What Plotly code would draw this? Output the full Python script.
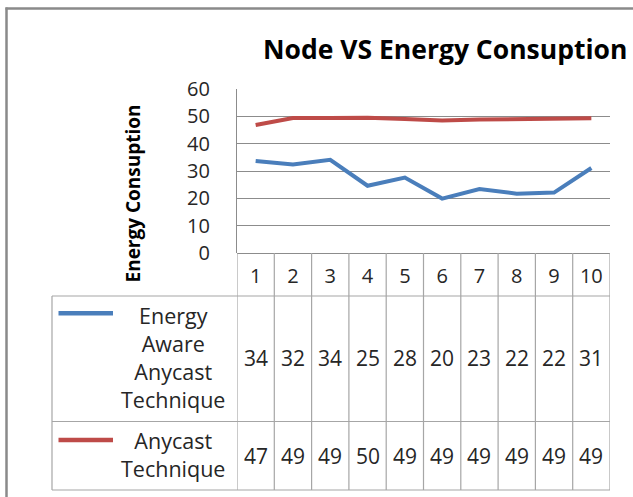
import plotly.graph_objects as go

# ---------------- data ----------------
nodes = [1, 2, 3, 4, 5, 6, 7, 8, 9, 10]
node_labels = ["1", "2", "3", "4", "5", "6", "7", "8", "9", "10"]
energy_aware = [33.7, 32.4, 34.1, 24.6, 27.6, 19.9, 23.4, 21.7, 22.1, 31.1]
anycast = [46.8, 49.4, 49.4, 49.5, 49.0, 48.5, 48.8, 48.9, 48.9, 49.3]
series_names = ["Energy Aware Anycast Technique", "Anycast Technique"]
series_labels = ["Energy<br>Aware<br>Anycast<br>Technique", "Anycast<br>Technique"]
y_ticks = [0, 10, 20, 30, 40, 50, 60]
title_text = "Node VS Energy Consuption"
y_title_text = "Energy Consuption"

# ---------------- layout geometry (pixels) ----------------
W, H = 633, 497
L, R, T, B = 237, 610, 89, 253
PW, PH = R - L, B - T


def px(x):
    return (x - L) / PW


def py(y):
    return (B - y) / PH


BLUE = "#4A7EBB"
RED = "#BE4B48"
GRID = "#8C8C8C"
TABLE = "#A6A6A6"
FRAME = "#8A8A8A"
TXT = "#262626"
FONT = "Open Sans"

fig = go.Figure()
colors = [BLUE, RED]
series = [energy_aware, anycast]
for name, vals, col in zip(series_names, series, colors):
    fig.add_trace(go.Scatter(x=nodes, y=vals, mode="lines", name=name,
                             line=dict(color=col, width=4), hoverinfo="x+y+name"))

shapes = []
# outer frame (left and top edges visible)
shapes.append(dict(type="line", xref="paper", yref="paper", x0=px(5.5), x1=px(640),
                   y0=py(8.5), y1=py(8.5), line=dict(color=FRAME, width=2.5)))
shapes.append(dict(type="line", xref="paper", yref="paper", x0=px(6.5), x1=px(6.5),
                   y0=py(7.5), y1=py(505), line=dict(color=FRAME, width=2.5)))

# data table horizontal rules
for yy in [296, 421.5, 490]:
    shapes.append(dict(type="line", xref="paper", yref="paper", x0=px(52), x1=px(R),
                       y0=py(yy), y1=py(yy), line=dict(color=TABLE, width=1.2)))
# table left border
shapes.append(dict(type="line", xref="paper", yref="paper", x0=px(52), x1=px(52),
                   y0=py(296), y1=py(490), line=dict(color=TABLE, width=1.2)))
# column separators
for i in range(len(nodes) + 1):
    xv = nodes[0] - 0.5 + i
    shapes.append(dict(type="line", xref="x", yref="paper", x0=xv, x1=xv,
                       y0=py(B), y1=py(490), line=dict(color=TABLE, width=1.2)))
# legend keys
key_y = [313.3, 440]
for ky, col in zip(key_y, colors):
    shapes.append(dict(type="line", xref="paper", yref="paper", x0=px(58.5), x1=px(113),
                       y0=py(ky), y1=py(ky), line=dict(color=col, width=4.5)))

annotations = []
annotations.append(dict(text="<b>" + title_text + "</b>", xref="paper", yref="paper",
                        x=px(445), y=py(49), xanchor="center", yanchor="middle",
                        showarrow=False, font=dict(family=FONT, size=26.5, color="#000000")))
annotations.append(dict(text="<b>" + y_title_text + "</b>", xref="paper", yref="paper",
                        x=px(132.5), y=py(194), xanchor="center", yanchor="middle",
                        textangle=-90, showarrow=False,
                        font=dict(family=FONT, size=19, color="#000000")))
label_y = [357.5, 454]
val_y = [358.3, 455.7]
for lab, ly, vals, vy in zip(series_labels, label_y, series, val_y):
    annotations.append(dict(text=lab, xref="paper", yref="paper", x=px(173), y=py(ly),
                            xanchor="center", yanchor="middle", align="center",
                            showarrow=False, font=dict(family=FONT, size=21.5, color=TXT)))
    for n, v in zip(nodes, vals):
        annotations.append(dict(text=str(int(v + 0.5)), xref="x", yref="paper", x=n,
                                y=py(vy), xanchor="center", yanchor="middle",
                                showarrow=False, font=dict(family=FONT, size=21, color=TXT)))

fig.update_layout(
    width=W, height=H,
    margin=dict(l=L, r=W - R, t=T, b=H - B, pad=0),
    paper_bgcolor="white", plot_bgcolor="white",
    showlegend=False,
    font=dict(family=FONT, color=TXT),
    shapes=shapes, annotations=annotations,
    xaxis=dict(range=[0.5, 10.5], tickmode="array", tickvals=nodes, ticktext=node_labels,
               showgrid=False, zeroline=False, showline=False, ticks="",
               ticklabelstandoff=9, tickfont=dict(family=FONT, size=20, color=TXT),
               fixedrange=True),
    yaxis=dict(range=[0, 60], tickmode="array", tickvals=y_ticks,
               showgrid=True, gridcolor=GRID, gridwidth=1.2,
               zeroline=True, zerolinecolor=GRID, zerolinewidth=1.2,
               showline=True, linecolor=GRID, linewidth=1.2, ticks="",
               ticklabelstandoff=22, tickfont=dict(family=FONT, size=20, color=TXT),
               fixedrange=True),
)

fig.write_html("out.html", config={"displayModeBar": False},
               post_script="document.body.style.margin='0px';document.body.style.overflow='hidden';")
